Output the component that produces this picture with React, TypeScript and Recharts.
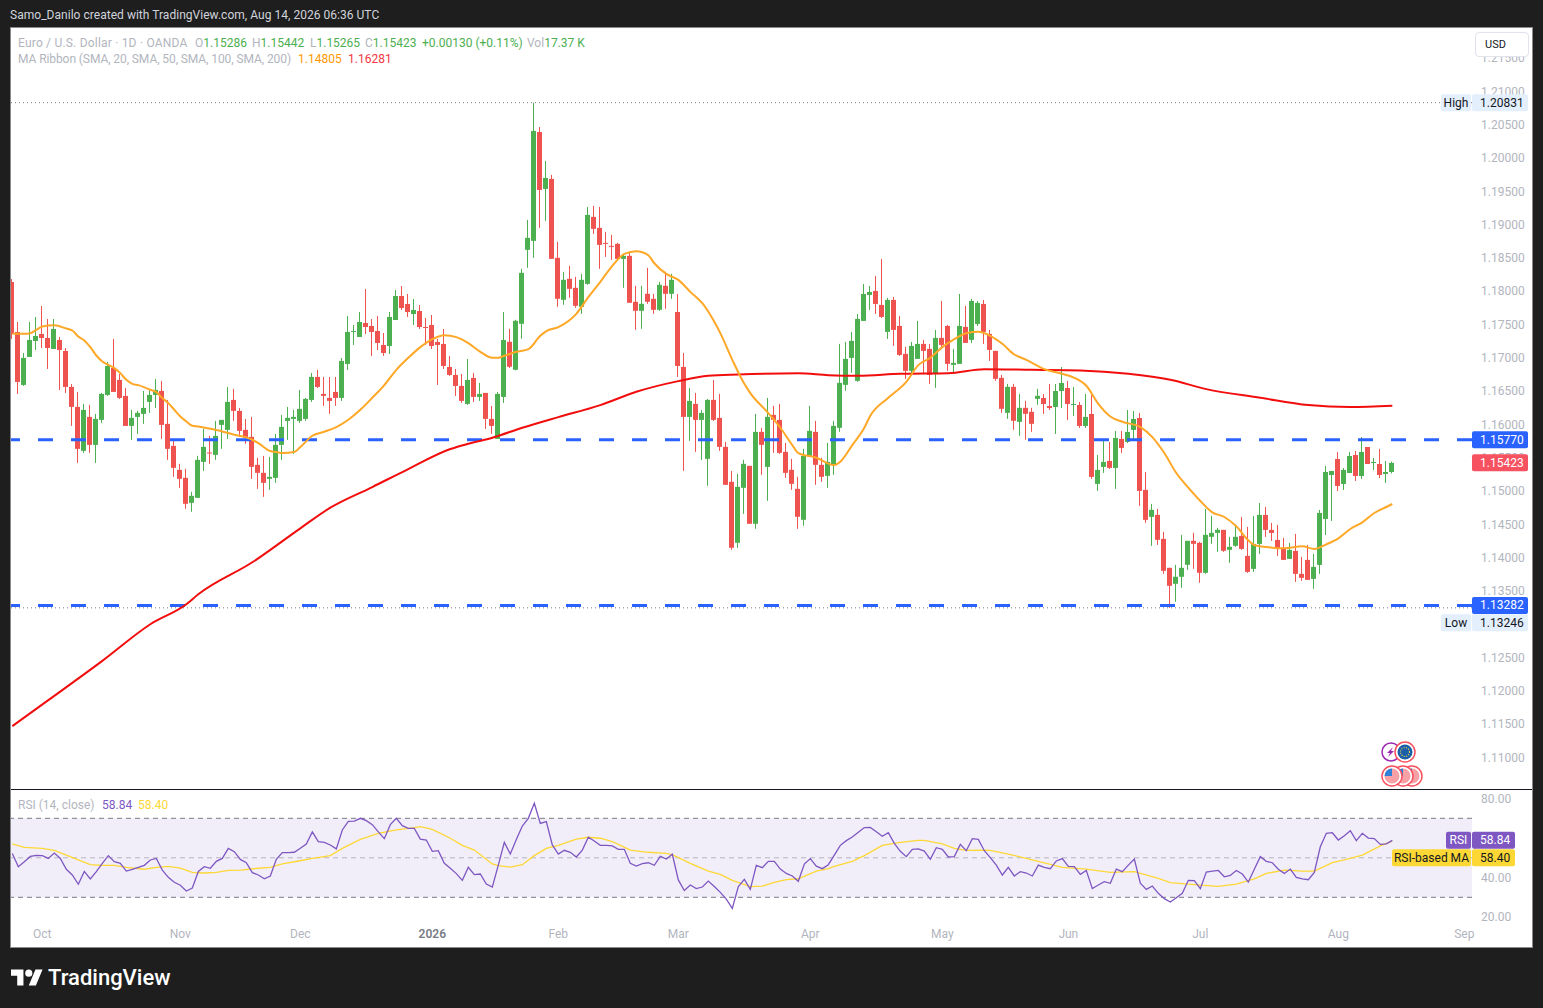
import React from 'react'
import {
  Bar,
  ComposedChart,
  Line,
  ReferenceArea,
  ReferenceLine,
  XAxis,
  YAxis,
} from 'recharts'

const FONT = 'Roboto, "Noto Sans", sans-serif'

const opens = [
  1.18138,1.17388,1.16593,1.17013,1.17253,1.17358,1.17298,1.17133,1.17268,1.17103,
  1.16563,1.16263,1.15603,1.16113,1.15693,1.16068,1.16443,1.16848,1.16668,1.16428,
  1.15978,1.16113,1.16158,1.16338,1.16443,1.16503,1.16008,1.15678,1.15318,1.15198,
  1.14823,1.14898,1.15438,1.15578,1.15543,1.15993,1.15918,1.16368,1.16203,1.15918,
  1.15813,1.15393,1.15273,1.15183,1.15198,1.15693,1.16053,1.16083,1.16053,1.16083,
  1.16368,1.16713,1.16458,1.16398,1.16488,1.16398,1.16908,1.17388,1.17313,1.17523,
  1.17478,1.17403,1.17193,1.17178,1.17568,1.17928,1.17808,1.17658,1.17703,1.17463,
  1.17493,1.17238,1.17208,1.16863,1.16743,1.16578,1.16308,1.16698,1.16413,1.16473,
  1.16083,1.15783,1.16413,1.17241,1.16821,1.17511,1.18621,1.18756,1.20391,1.19536,
  1.19686,1.18501,1.17871,1.18186,1.18051,1.17766,1.18111,1.19116,1.18951,1.18726,
  1.18681,1.18711,1.18486,1.18531,1.17841,1.17706,1.17961,1.17886,1.17721,1.18081,
  1.17961,1.17688,1.16863,1.16113,1.16308,1.16068,1.15483,1.16368,1.16098,1.15663,
  1.15138,1.14223,1.15048,1.15378,1.14508,1.15888,1.15363,1.16143,1.16068,1.15588,
  1.15318,1.15033,1.14568,1.15528,1.15888,1.15393,1.15228,1.15393,1.15949,1.16594,
  1.16999,1.16654,1.17554,1.17944,1.18004,1.17794,1.17389,1.17869,1.17479,1.17059,
  1.16804,1.16984,1.17209,1.17134,1.16759,1.17299,1.17479,1.16894,1.16909,1.17464,
  1.17269,1.17509,1.17809,1.17359,1.17104,1.16699,1.16174,1.16564,1.16039,1.16249,
  1.16189,1.16384,1.16397,1.16277,1.16262,1.16502,1.16547,1.16292,1.16292,1.15977,
  1.16157,1.15107,1.15362,1.15452,1.15347,1.15782,1.15737,1.15917,1.16097,1.15017,
  1.14612,1.14642,1.14282,1.13847,1.13607,1.13712,1.13892,1.14252,1.14222,1.13772,
  1.14312,1.14372,1.14417,1.14117,1.14177,1.14326,1.14026,1.13831,1.14206,1.14641,
  1.14416,1.14266,1.14146,1.13981,1.14101,1.13756,1.13966,1.13681,1.13891,1.14581,
  1.15241,1.15481,1.15106,1.15271,1.15541,1.15226,1.15661,1.15421,1.15406,1.15256,1.15286,
]

const highs = [
  1.18183,1.17538,1.17073,1.17538,1.17613,1.17778,1.17583,1.17583,1.17313,1.17148,
  1.16608,1.16488,1.16308,1.16293,1.16158,1.16473,1.16938,1.17283,1.16758,1.16548,
  1.16218,1.16203,1.16503,1.16518,1.16683,1.16653,1.16368,1.15783,1.15408,1.15333,
  1.14988,1.15528,1.15933,1.15828,1.16053,1.16068,1.16563,1.16533,1.16248,1.16083,
  1.16113,1.15498,1.15528,1.15513,1.15858,1.16143,1.16263,1.16218,1.16518,1.16398,
  1.16773,1.16818,1.16713,1.16713,1.16713,1.16998,1.17628,1.17493,1.17688,1.18033,
  1.17583,1.17628,1.17373,1.17688,1.18018,1.18078,1.17958,1.17883,1.17793,1.17598,
  1.17643,1.17283,1.17433,1.17028,1.16833,1.16758,1.16983,1.16773,1.16623,1.16473,
  1.16278,1.16488,1.17688,1.17436,1.17571,1.18336,1.19071,1.20831,1.20466,1.19956,
  1.19746,1.18741,1.18291,1.18381,1.18216,1.18261,1.19266,1.19281,1.19266,1.18891,
  1.18846,1.18726,1.18546,1.18576,1.18081,1.18081,1.18351,1.17961,1.18141,1.18291,
  1.18261,1.17958,1.17073,1.16548,1.16473,1.16218,1.16383,1.16668,1.16458,1.15738,
  1.15303,1.15258,1.15468,1.15378,1.16158,1.15948,1.16398,1.16278,1.16308,1.15723,
  1.15483,1.15213,1.15633,1.16278,1.16053,1.15498,1.15723,1.16053,1.17209,1.17239,
  1.17389,1.17659,1.18109,1.18079,1.18229,1.18484,1.17899,1.17914,1.17629,1.17164,
  1.17239,1.17554,1.17269,1.17209,1.17419,1.17854,1.17494,1.17134,1.17959,1.17779,
  1.17884,1.17854,1.17869,1.17419,1.17104,1.16744,1.16609,1.16609,1.16459,1.16354,
  1.16249,1.16534,1.16457,1.16607,1.16607,1.16862,1.16652,1.16562,1.16337,1.16457,
  1.16442,1.15542,1.15782,1.15737,1.15902,1.15902,1.16217,1.16202,1.16172,1.15287,
  1.14807,1.14732,1.14387,1.13847,1.13892,1.14342,1.14252,1.14372,1.14237,1.14732,
  1.14627,1.14447,1.14417,1.14312,1.14492,1.14611,1.14461,1.14626,1.14821,1.14761,
  1.14521,1.14491,1.14296,1.14221,1.14356,1.14011,1.14191,1.14056,1.14716,1.15376,
  1.15301,1.15586,1.15346,1.15586,1.15601,1.15811,1.15661,1.15496,1.15631,1.15451,1.15442,
]

const lows = [
  1.17283,1.16458,1.16578,1.17013,1.17118,1.17148,1.16833,1.17133,1.16518,1.16473,
  1.15978,1.15423,1.15573,1.15573,1.15423,1.16023,1.16428,1.16488,1.16383,1.15978,
  1.15768,1.15858,1.16008,1.16173,1.16248,1.15783,1.15468,1.15213,1.15048,1.14733,
  1.14688,1.14898,1.15303,1.15408,1.15468,1.15633,1.15783,1.16053,1.15813,1.15708,
  1.15183,1.15033,1.14913,1.15018,1.15123,1.15468,1.15768,1.15558,1.16023,1.16053,
  1.16338,1.16548,1.16278,1.16158,1.16278,1.16353,1.16818,1.17193,1.17313,1.17358,
  1.17028,1.17118,1.17028,1.17058,1.17568,1.17718,1.17613,1.17493,1.17433,1.17193,
  1.17133,1.16593,1.16833,1.16728,1.16428,1.16323,1.16293,1.16338,1.16353,1.15933,
  1.15858,1.15783,1.16323,1.16846,1.16811,1.17286,1.18351,1.18501,1.18951,1.19056,
  1.18486,1.17766,1.17796,1.17901,1.17751,1.17661,1.18096,1.18861,1.18336,1.18516,
  1.18471,1.18456,1.18051,1.17826,1.17421,1.17436,1.17811,1.17661,1.17706,1.17736,
  1.17886,1.16713,1.15303,1.15753,1.15588,1.15468,1.15078,1.16053,1.15603,1.15093,
  1.14118,1.14148,1.14658,1.14508,1.14433,1.15243,1.14853,1.15573,1.15558,1.15198,
  1.15018,1.14433,1.14478,1.15528,1.15093,1.15138,1.15048,1.15243,1.15889,1.16504,
  1.16774,1.16639,1.17554,1.17719,1.17659,1.17599,1.17284,1.17179,1.17029,1.16684,
  1.16729,1.16984,1.16759,1.16609,1.16549,1.17149,1.16804,1.16759,1.16909,1.17224,
  1.17224,1.17479,1.17209,1.16954,1.16654,1.16174,1.16084,1.15919,1.15829,1.15769,
  1.15889,1.16294,1.16157,1.16217,1.15857,1.16247,1.16067,1.16127,1.15947,1.15947,
  1.15182,1.15002,1.15272,1.15332,1.15032,1.15572,1.15722,1.15752,1.14777,1.14522,
  1.14177,1.14192,1.13757,1.13246,1.13337,1.13547,1.13817,1.13832,1.13622,1.13757,
  1.14207,1.14087,1.14087,1.13922,1.14162,1.14116,1.13771,1.13786,1.14056,1.14311,
  1.14251,1.14026,1.13966,1.13981,1.13636,1.13651,1.13666,1.13531,1.13756,1.14341,
  1.14551,1.15001,1.15016,1.15271,1.15151,1.15181,1.15406,1.15316,1.15196,1.15121,1.15265,
]

const closes = [
  1.17358,1.16638,1.16998,1.17268,1.17328,1.17298,1.17148,1.17433,1.17118,1.16563,
  1.16263,1.15633,1.16218,1.15693,1.16083,1.16458,1.16878,1.16488,1.16398,1.15978,
  1.16098,1.16173,1.16248,1.16443,1.16518,1.15993,1.15633,1.15348,1.15183,1.14808,
  1.14928,1.15468,1.15663,1.15563,1.15828,1.16068,1.16338,1.16203,1.15903,1.15798,
  1.15363,1.15273,1.15123,1.15213,1.15693,1.15963,1.16098,1.16113,1.16233,1.16383,
  1.16713,1.16563,1.16428,1.16353,1.16398,1.16953,1.17388,1.17403,1.17538,1.17463,
  1.17388,1.17223,1.17073,1.17613,1.17928,1.17748,1.17688,1.17718,1.17463,1.17448,
  1.17178,1.17193,1.16878,1.16743,1.16578,1.16353,1.16668,1.16413,1.16458,1.16083,
  1.15978,1.16458,1.17268,1.16866,1.17556,1.18276,1.18801,1.20406,1.19521,1.19701,
  1.18486,1.17886,1.18171,1.18036,1.17781,1.18171,1.19146,1.18936,1.18696,1.18711,
  1.18666,1.18486,1.18531,1.17826,1.17706,1.17811,1.17841,1.17721,1.18096,1.17961,
  1.18171,1.16878,1.16113,1.16353,1.16068,1.16173,1.16368,1.16068,1.15663,1.15093,
  1.14148,1.15063,1.15408,1.14508,1.15888,1.15693,1.16113,1.16068,1.15573,1.15273,
  1.15108,1.14613,1.15528,1.15903,1.15393,1.15213,1.15438,1.15978,1.16624,1.16984,
  1.17254,1.17584,1.17959,1.17989,1.17809,1.17614,1.17869,1.17419,1.17044,1.16804,
  1.17179,1.17209,1.17104,1.16744,1.17299,1.17194,1.16909,1.16924,1.17479,1.17224,
  1.17854,1.17824,1.17389,1.17119,1.16684,1.16234,1.16564,1.16054,1.16249,1.16159,
  1.16009,1.16429,1.16307,1.16247,1.16502,1.16622,1.16307,1.16307,1.15977,1.16112,
  1.15212,1.15317,1.15437,1.15347,1.15797,1.15647,1.15887,1.16082,1.15002,1.14567,
  1.14717,1.14267,1.13802,1.13577,1.13712,1.13847,1.14252,1.14207,1.13772,1.14342,
  1.14372,1.14417,1.14102,1.14162,1.14312,1.14131,1.13786,1.14206,1.14641,1.14416,
  1.14371,1.14131,1.13966,1.14116,1.13756,1.13696,1.13666,1.13861,1.14671,1.15286,
  1.15301,1.15076,1.15316,1.15526,1.15226,1.15586,1.15406,1.15436,1.15241,1.15286,1.15423,
]

// at the bars where the curve bends, the line joins them
const ma20Bars = [
  0,2,3,4,5,7,9,10,11,12,13,14,15,16,17,18,19,20,21,23,24,25,26,27,28,29,30,31,33,35,37,39,40,41,
  43,44,45,47,48,50,52,54,56,58,60,62,64,66,68,70,72,74,76,78,80,81,82,84,86,88,89,91,94,96,98,
  100,102,104,106,107,109,111,113,115,117,118,120,122,123,126,128,130,131,134,137,138,140,142,143,
  146,149,151,153,155,157,159,161,163,165,167,169,172,175,177,179,181,183,185,188,190,192,194,196,
  198,200,202,204,206,207,209,212,215,217,219,221,223,225,227,229,230,
]
const ma20Values = [
  1.1736,1.1736,1.1737,1.1742,1.1747,1.1749,1.1744,1.1741,1.1732,1.1726,1.17160,1.17035,1.16945,1.16895,
  1.16845,1.1677,1.1667,1.1661,1.1659,1.1652,1.16485,1.16395,1.1632,1.1622,1.1612,1.16045,1.1598,1.1597,
  1.15935,1.15895,1.15845,1.15805,1.1577,1.1572,
  1.1560,1.15585,1.1557,1.15585,1.1566,1.1583,1.1589,1.1596,1.1607,1.1622,1.1640,1.1659,1.1682,1.1700,
  1.1716,1.1728,1.1734,1.1731,1.1722,1.1709,1.1700,1.1700,1.1703,1.1709,1.1713,1.1733,1.1740,1.1746,
  1.1766,1.1791,1.1814,1.1838,1.1856,1.1860,1.1854,1.1842,1.1826,1.1817,1.1799,1.1782,1.1754,1.1737,
  1.1697,1.1661,1.1647,1.1617,1.1595,1.1569,1.1557,1.1550,1.1539,1.1544,1.1569,1.1595,1.1613,1.1640,
  1.1664,1.1689,1.1700,1.1716,1.1728,1.1737,1.1739,1.1733,1.1721,1.1705,1.1697,1.1683,1.1676,1.1670,
  1.1658,1.1631,1.1612,1.1604,1.1596,1.1581,1.1557,1.1527,1.1505,1.1485,1.1468,1.1461,1.1447,1.1426,
  1.1419,1.1416,1.1414,1.1417,1.1413,1.1420,1.1429,1.1443,1.1453,1.1467,1.1476,1.14805,
]

const ma200Bars = [
  0,6,15,23,29,31,40,48,53,60,66,73,76,80,85,91,98,104,111,116,121,131,136,141,148,156,162,170,178,
  186,193,199,208,216,223,230,
]
const ma200Values = [
  1.1147,1.1186,1.1245,1.1300,1.1330,1.1345,1.1393,1.1444,1.1475,1.1506,1.1533,1.1563,1.1571,1.1580,
  1.1595,1.1611,1.1629,1.1649,1.1665,1.1673,1.1675,1.1677,1.1674,1.1673,1.1676,1.1677,1.1683,1.1682,
  1.1681,1.1676,1.1667,1.1653,1.1640,1.1629,1.1626,1.16281,
]

const rsiValues = [
  52.2,45.5,48.0,50.7,51.2,51.1,49.7,52.4,49.7,44.2,
  41.3,36.6,43.1,39.3,43.0,47.2,51.1,48.0,47.2,43.3,
  44.2,45.2,46.2,48.9,49.7,43.8,40.1,37.6,36.1,33.2,
  34.7,43.1,45.5,44.7,48.2,49.7,54.8,53.1,49.2,47.5,
  42.5,41.3,39.4,40.8,49.2,52.6,52.6,52.8,54.8,57.0,
  63.1,58.2,57.8,56.5,54.5,64.1,68.5,68.6,70.0,68.8,
  66.8,63.1,59.7,66.8,70.0,66.3,64.9,64.9,59.5,59.0,
  53.3,53.6,47.2,44.7,42.0,38.6,45.2,41.5,41.8,36.7,
  35.2,46.3,57.8,51.9,59.3,66.1,70.0,77.6,67.4,68.3,
  56.5,51.9,53.8,52.8,50.4,53.9,60.4,58.5,56.3,56.3,
  56.0,54.3,54.3,47.2,45.8,47.0,47.5,46.2,50.7,49.4,
  51.8,38.8,33.4,36.2,34.4,35.2,38.2,35.5,32.5,29.1,
  24.4,35.4,39.1,34.0,46.2,45.0,48.2,48.2,44.3,42.1,
  40.8,38.1,46.8,49.6,45.8,44.5,46.5,51.4,56.3,58.7,
  60.5,62.9,65.3,65.4,63.2,60.9,62.7,57.3,53.3,50.6,
  54.3,54.5,53.4,49.2,55.1,54.3,50.4,50.6,56.8,53.6,
  59.7,59.3,53.6,50.1,46.3,41.3,45.2,40.8,43.0,42.3,
  40.8,46.3,45.2,44.5,48.4,49.6,45.7,45.5,41.6,43.6,
  34.4,36.2,37.9,37.1,44.3,43.0,46.3,49.4,37.1,34.0,
  35.7,32.0,29.3,27.6,29.8,32.0,38.6,38.4,34.4,42.8,
  43.3,43.6,40.4,41.1,43.6,41.8,37.7,44.2,50.6,48.2,
  47.5,44.2,42.1,44.3,40.1,39.3,38.9,42.6,55.6,62.4,
  62.7,59.0,61.2,63.7,58.7,62.4,60.0,59.7,56.8,57.1,58.84,
]

const rsiMaBars = [
  0,2,5,7,9,11,13,15,17,19,22,24,26,28,30,32,34,36,38,41,43,45,48,50,53,55,58,61,64,67,68,70,73,75,77,80,81,
  83,85,87,89,91,94,96,98,100,101,103,106,109,110,113,116,118,120,123,125,127,129,131,134,136,137,140,142,145,
  148,151,152,155,157,159,162,163,166,170,175,179,183,187,191,193,198,201,204,207,209,212,215,217,220,222,225,228,230,
]
const rsiMaValues = [
  57.0,55.3,54.8,53.8,51.4,48.9,46.5,46.2,46.2,45.2,44.2,45.2,45.7,44.8,42.6,42.3,42.6,43.6,43.8,44.7,45.2,46.9,
  48.5,49.7,51.1,54.8,59.3,62.4,64.1,65.3,65.8,64.4,59.9,56.3,53.9,46.9,46.0,
  45.3,46.5,51.1,54.8,56.3,59.5,60.4,59.9,58.2,56.8,53.9,52.8,52.2,51.6,47.2,43.3,41.6,38.6,35.4,35.7,37.6,38.9,
  39.4,43.3,44.5,45.7,48.2,51.1,56.3,57.8,58.8,58.8,57.1,54.8,53.8,53.9,53.8,51.9,48.9,45.2,44.3,42.6,43.0,39.6,
  37.4,36.2,35.5,36.7,39.3,42.1,43.8,43.3,43.3,47.5,48.9,51.4,56.0,58.4,
]

const priceTicks = [
  1.215,1.21,1.205,1.2,1.195,1.19,1.185,1.18,1.175,1.17,1.165,1.16,1.155,1.15,1.145,1.14,1.135,1.13,1.125,1.12,1.115,1.11,
]
const rsiTicks = [20, 40, 60, 80]
const monthBars = [5, 28, 48, 70, 91, 111, 133, 155, 176, 198, 221, 242]
const monthLabels = ['Oct', 'Nov', 'Dec', '2026', 'Feb', 'Mar', 'Apr', 'May', 'Jun', 'Jul', 'Aug', 'Sep']

const candles = opens.map((open, i) => ({
  i,
  open,
  high: highs[i],
  low: lows[i],
  close: closes[i],
  ma20: ma20Bars.includes(i) ? ma20Values[ma20Bars.indexOf(i)] : null,
  ma200: ma200Bars.includes(i) ? ma200Values[ma200Bars.indexOf(i)] : null,
}))

const rsiRows = rsiValues.map((rsi, i) => ({
  i,
  rsi,
  rsiMa: rsiMaBars.includes(i) ? rsiMaValues[rsiMaBars.indexOf(i)] : null,
}))

const BAR_DOMAIN: [number, number] = [-0.22, 243.28]
const PRICE_DOMAIN: [number, number] = [1.10526, 1.21952]
const RSI_DOMAIN: [number, number] = [18, 84.33]

const Candle = (props: any) => {
  const { x, y, width, height, payload } = props
  const color = payload.close >= payload.open ? '#4caf50' : '#ef5350'
  const perUnit = height / (payload.high - payload.low)
  const yOf = (v: number) => y + (payload.high - v) * perUnit
  const top = yOf(Math.max(payload.open, payload.close))
  const bottom = yOf(Math.min(payload.open, payload.close))
  const left = Math.round(x + width / 2 - 2.5)
  return (
    <g>
      <rect x={left + 2} y={y} width={1} height={height} fill={color} />
      <rect x={left} y={top} width={5} height={Math.max(bottom - top, 1)} fill={color} />
    </g>
  )
}

const PriceTag = ({ viewBox, text, name, fill, color, dy = 0, nameWidth = 30, tagWidth = 56 }: any) => {
  const right = viewBox.x + viewBox.width
  const cy = viewBox.y + dy
  return (
    <g fontFamily={FONT} fontSize={12}>
      {name && <rect x={right - nameWidth - 1} y={cy - 8.5} width={nameWidth} height={17} rx={2} fill={fill} />}
      {name && (
        <text x={right - nameWidth / 2 - 1} y={cy + 4} textAnchor="middle" fill={color}>
          {name}
        </text>
      )}
      <rect x={right} y={cy - 8.5} width={tagWidth} height={17} rx={2} fill={fill} />
      <text x={right + 8} y={cy + 4} fill={color}>
        {text}
      </text>
    </g>
  )
}

const TimeTick = ({ x, y, payload }: any) => {
  const label = monthLabels[monthBars.indexOf(payload.value)]
  const isYear = label === '2026'
  return (
    <text
      x={x}
      y={y + 9}
      textAnchor="middle"
      fontFamily={FONT}
      fontSize={12}
      fontWeight={isYear ? 600 : 400}
      fill={isYear ? '#787b86' : '#b2b5be'}
    >
      {label}
    </text>
  )
}

const Flag = ({ cx, cy }: any) => (
  <g>
    <circle cx={cx} cy={cy} r={10} fill="#fff" stroke="#f7525f" strokeWidth={1.5} />
    <circle cx={cx} cy={cy} r={7.5} fill="#f7a1a6" />
    <path d={`M${cx - 7.5} ${cy}A7.5 7.5 0 0 1 ${cx} ${cy - 7.5}V${cy}Z`} fill="#2f80d8" />
  </g>
)

const Legend = () => (
  <>
    <div style={{ position: 'absolute', left: 10, top: 8, color: '#d1d4dc', fontSize: 12, letterSpacing: 0.03 }}>
      Samo_Danilo created with TradingView.com, Aug 14, 2026 06:36 UTC
    </div>
    <div style={{ position: 'absolute', left: 18, top: 36, color: '#b2b5be', fontSize: 12, whiteSpace: 'pre', letterSpacing: 0.2 }}>
      Euro / U.S. Dollar · 1D · OANDA
    </div>
    <div style={{ position: 'absolute', left: 195, top: 36, color: '#b2b5be', fontSize: 12 }}>
      O<span style={{ color: '#4caf50' }}>1.15286</span>
    </div>
    <div style={{ position: 'absolute', left: 252, top: 36, color: '#b2b5be', fontSize: 12 }}>
      H<span style={{ color: '#4caf50' }}>1.15442</span>
    </div>
    <div style={{ position: 'absolute', left: 310, top: 36, color: '#b2b5be', fontSize: 12 }}>
      L<span style={{ color: '#4caf50' }}>1.15265</span>
    </div>
    <div style={{ position: 'absolute', left: 365, top: 36, color: '#b2b5be', fontSize: 12 }}>
      C<span style={{ color: '#4caf50' }}>1.15423</span>
    </div>
    <div style={{ position: 'absolute', left: 422, top: 36, color: '#4caf50', fontSize: 12 }}>+0.00130 (+0.11%)</div>
    <div style={{ position: 'absolute', left: 527, top: 36, color: '#b2b5be', fontSize: 12 }}>
      Vol<span style={{ color: '#4caf50' }}>17.37 K</span>
    </div>
    <div style={{ position: 'absolute', left: 18, top: 52, color: '#b2b5be', fontSize: 12, letterSpacing: -0.08 }}>
      MA Ribbon (SMA, 20, SMA, 50, SMA, 100, SMA, 200)
    </div>
    <div style={{ position: 'absolute', left: 298, top: 52, color: '#ff9800', fontSize: 12 }}>1.14805</div>
    <div style={{ position: 'absolute', left: 348, top: 52, color: '#f23645', fontSize: 12 }}>1.16281</div>
    <div style={{ position: 'absolute', left: 18, top: 798, color: '#b2b5be', fontSize: 12 }}>RSI (14, close)</div>
    <div style={{ position: 'absolute', left: 102, top: 798, color: '#7e57c2', fontSize: 12 }}>58.84</div>
    <div style={{ position: 'absolute', left: 138, top: 798, color: '#fdd835', fontSize: 12 }}>58.40</div>
    <div
      style={{
        position: 'absolute',
        left: 1475,
        top: 32,
        width: 54,
        height: 25,
        boxSizing: 'border-box',
        background: '#fff',
        border: '1px solid #e0e3eb',
        borderRadius: 4,
        color: '#131722',
        fontSize: 11,
        lineHeight: '23px',
        paddingLeft: 9,
      }}
    >
      USD
    </div>
    <svg style={{ position: 'absolute', left: 11, top: 966 }} width={32} height={25} viewBox="0 0 36 28">
      <path d="M14 22H7V11H0V4h14v18zM28 22h-8l7.5-18h8L28 22z" fill="#fff" />
      <circle cx={20} cy={8} r={4} fill="#fff" />
    </svg>
    <div style={{ position: 'absolute', left: 48, top: 965, color: '#fff', fontSize: 22, fontWeight: 500 }}>TradingView</div>
    <svg style={{ position: 'absolute', left: 1375, top: 738 }} width={50} height={52}>
      <circle cx={16} cy={14} r={9} fill="#fff" stroke="#9c27b0" strokeWidth={1.5} />
      <path d="M18 9l-6 6h3l-2 4 6-6h-3z" fill="#9c27b0" />
      <circle cx={30} cy={14} r={10} fill="#fff" stroke="#f7525f" strokeWidth={1.5} />
      <circle cx={30} cy={14} r={7.5} fill="#1a5fa8" />
      <circle cx={30} cy={14} r={4.5} fill="none" stroke="#ffd54f" strokeWidth={1.2} strokeDasharray="1 1.4" />
      <Flag cx={37} cy={38} />
      <Flag cx={28} cy={38} />
      <Flag cx={17} cy={38} />
    </svg>
  </>
)

export default function App() {
  return (
    <div
      style={{
        position: 'absolute',
        left: 0,
        top: 0,
        width: 1543,
        height: 1008,
        overflow: 'hidden',
        background: '#1e1e1e',
        fontFamily: FONT,
      }}
    >
      <div
        style={{
          position: 'absolute',
          left: 10,
          top: 27,
          width: 1523,
          height: 921,
          boxSizing: 'border-box',
          background: '#fff',
          border: '1px solid #8a8a8a',
        }}
      />
      <div style={{ position: 'absolute', left: 11, top: 28 }}>
        <ComposedChart width={1521} height={761} data={candles} margin={{ top: 0, right: 0, bottom: 0, left: 0 }}>
          <XAxis dataKey="i" type="number" domain={BAR_DOMAIN} hide allowDataOverflow />
          <YAxis
            orientation="right"
            width={60}
            domain={PRICE_DOMAIN}
            ticks={priceTicks}
            interval={0}
            allowDataOverflow
            axisLine={false}
            tickLine={false}
            tickMargin={3}
            tick={{ fill: '#b2b5be', fontSize: 12, fontFamily: FONT }}
            tickFormatter={(v: number) => v.toFixed(5)}
          />
          <ReferenceLine y={1.20831} stroke="#787b86" strokeDasharray="1 3" />
          <ReferenceLine y={1.13246} stroke="#787b86" strokeDasharray="1 3" />
          <ReferenceLine y={1.1577} stroke="#2962ff" strokeWidth={3} strokeDasharray="15 18" />
          <ReferenceLine y={1.13282} stroke="#2962ff" strokeWidth={3} strokeDasharray="15 18" />
          <Bar dataKey={(d: any) => [d.low, d.high]} barSize={5} shape={Candle} isAnimationActive={false} />
          <Line dataKey="ma200" type="monotone" stroke="#f20d0d" strokeWidth={2} dot={false} connectNulls isAnimationActive={false} />
          <Line dataKey="ma20" type="monotone" stroke="#ffa726" strokeWidth={2} dot={false} connectNulls isAnimationActive={false} />
        </ComposedChart>
      </div>
      {/* second chart on top so the price tags cover the axis labels */}
      <div style={{ position: 'absolute', left: 11, top: 28 }}>
        <ComposedChart width={1521} height={761} data={candles} margin={{ top: 0, right: 60, bottom: 0, left: 0 }}>
          <XAxis dataKey="i" type="number" domain={BAR_DOMAIN} hide allowDataOverflow />
          <YAxis hide domain={PRICE_DOMAIN} allowDataOverflow />
          <ReferenceLine
            y={1.20831}
            stroke="none"
            label={<PriceTag text="1.20831" name="High" fill="#e3effd" color="#131722" />}
          />
          <ReferenceLine
            y={1.13246}
            stroke="none"
            label={<PriceTag text="1.13246" name="Low" fill="#e3effd" color="#131722" dy={15} />}
          />
          <ReferenceLine y={1.1577} stroke="none" label={<PriceTag text="1.15770" fill="#2962ff" color="#fff" />} />
          <ReferenceLine y={1.15423} stroke="none" label={<PriceTag text="1.15423" fill="#f7525f" color="#fff" />} />
          <ReferenceLine y={1.13282} stroke="none" label={<PriceTag text="1.13282" fill="#2962ff" color="#fff" />} />
        </ComposedChart>
      </div>
      <div style={{ position: 'absolute', left: 11, top: 789, width: 1521, height: 1, background: '#131722' }} />
      <div style={{ position: 'absolute', left: 11, top: 790 }}>
        <ComposedChart width={1521} height={157} data={rsiRows} margin={{ top: 0, right: 0, bottom: 0, left: 0 }}>
          <XAxis
            dataKey="i"
            type="number"
            domain={BAR_DOMAIN}
            ticks={monthBars}
            interval={0}
            height={26}
            allowDataOverflow
            axisLine={false}
            tickLine={false}
            tick={<TimeTick />}
          />
          <YAxis
            orientation="right"
            width={60}
            domain={RSI_DOMAIN}
            ticks={rsiTicks}
            interval={0}
            allowDataOverflow
            axisLine={false}
            tickLine={false}
            tickMargin={3}
            tick={{ fill: '#b2b5be', fontSize: 12, fontFamily: FONT }}
            tickFormatter={(v: number) => v.toFixed(2)}
          />
          <ReferenceArea y1={30} y2={70} fill="#7e57c2" fillOpacity={0.1} stroke="none" />
          <ReferenceLine y={70} stroke="#787b86" strokeDasharray="5 4" />
          <ReferenceLine y={50} stroke="#787b86" strokeOpacity={0.5} strokeDasharray="5 4" />
          <ReferenceLine y={30} stroke="#787b86" strokeDasharray="5 4" />
          <Line dataKey="rsiMa" stroke="#fdd835" strokeWidth={1.3} dot={false} connectNulls isAnimationActive={false} />
          <Line dataKey="rsi" stroke="#7e57c2" strokeWidth={1.3} dot={false} isAnimationActive={false} />
        </ComposedChart>
      </div>
      <div style={{ position: 'absolute', left: 11, top: 790 }}>
        <ComposedChart width={1521} height={157} data={rsiRows} margin={{ top: 0, right: 60, bottom: 26, left: 0 }}>
          <XAxis dataKey="i" type="number" domain={BAR_DOMAIN} hide allowDataOverflow />
          <YAxis hide domain={RSI_DOMAIN} allowDataOverflow />
          <ReferenceLine
            y={58.84}
            stroke="none"
            label={<PriceTag text="58.84" name="RSI" fill="#7e57c2" color="#fff" nameWidth={25} tagWidth={43} />}
          />
          <ReferenceLine
            y={58.4}
            stroke="none"
            label={<PriceTag text="58.40" name="RSI-based MA" fill="#fdd835" color="#131722" dy={16.5} nameWidth={79} tagWidth={43} />}
          />
        </ComposedChart>
      </div>
      <Legend />
    </div>
  )
}
